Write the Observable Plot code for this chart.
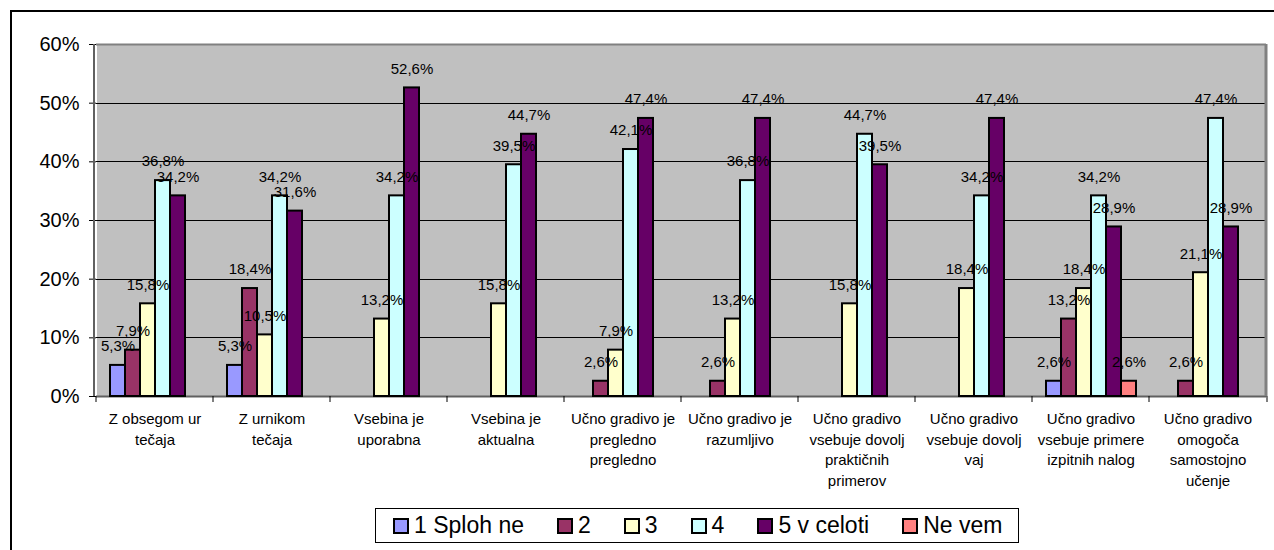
<!DOCTYPE html>
<html>
<head>
<meta charset="utf-8">
<script src="https://cdn.jsdelivr.net/npm/d3@7"></script>
<script src="https://cdn.jsdelivr.net/npm/@observablehq/plot@0.6"></script>
<style>
  html, body { margin: 0; padding: 0; background: #fff; overflow: hidden; }
  #wrap { position: relative; width: 1274px; height: 550px; overflow: hidden; }
  #border { position: absolute; left: 10px; top: 10px; width: 1290px; height: 580px; border: 2px solid #000; box-sizing: border-box; }
  #chart { position: absolute; left: 0; top: 0; }
  #legend { position: absolute; left: 375px; top: 508px; height: 35px; border: 1px solid #000; box-sizing: border-box;
            background: #fff; display: flex; align-items: center; padding-left: 17px; padding-right: 16px;
            font: 23px "Liberation Sans", Arial, sans-serif; color: #000; }
  .item { display: flex; align-items: center; margin-right: 33px; white-space: nowrap; }
  .item:last-child { margin-right: 0; }
  .sw { width: 12px; height: 12px; border: 2px solid #000; margin-right: 5px; }
</style>
</head>
<body>
<div id="wrap">
  <div id="border"></div>
  <div id="chart"></div>
  <div id="legend"></div>
</div>
<script>
// ---- data ----
const categories = [
  "Z obsegom ur tečaja",
  "Z urnikom tečaja",
  "Vsebina je uporabna",
  "Vsebina je aktualna",
  "Učno gradivo je pregledno pregledno",
  "Učno gradivo je razumljivo",
  "Učno gradivo vsebuje dovolj praktičnih primerov",
  "Učno gradivo vsebuje dovolj vaj",
  "Učno gradivo vsebuje primere izpitnih nalog",
  "Učno gradivo omogoča samostojno učenje"
];
const tickLabels = [
  "Z obsegom ur\ntečaja",
  "Z urnikom\ntečaja",
  "Vsebina je\nuporabna",
  "Vsebina je\naktualna",
  "Učno gradivo je\npregledno\npregledno",
  "Učno gradivo je\nrazumljivo",
  "Učno gradivo\nvsebuje dovolj\npraktičnih\nprimerov",
  "Učno gradivo\nvsebuje dovolj\nvaj",
  "Učno gradivo\nvsebuje primere\nizpitnih nalog",
  "Učno gradivo\nomogoča\nsamostojno\nučenje"
];
const seriesNames = ["1 Sploh ne", "2", "3", "4", "5 v celoti", "Ne vem"];
const s1SplohNe = [5.3, 5.3, 0, 0, 0, 0, 0, 0, 2.6, 0];
const s2 =        [7.9, 18.4, 0, 0, 2.6, 2.6, 0, 0, 13.2, 2.6];
const s3 =        [15.8, 10.5, 13.2, 15.8, 7.9, 13.2, 15.8, 18.4, 18.4, 21.1];
const s4 =        [36.8, 34.2, 34.2, 39.5, 42.1, 36.8, 44.7, 34.2, 34.2, 47.4];
const s5VCeloti = [34.2, 31.6, 52.6, 44.7, 47.4, 47.4, 39.5, 47.4, 28.9, 28.9];
const sNeVem =    [0, 0, 0, 0, 0, 0, 0, 0, 2.6, 0];
const yTicks = [0, 10, 20, 30, 40, 50, 60];

// ---- styles ----
const seriesColors = ["#9999FF", "#993366", "#FFFFCC", "#CCFFFF", "#660066", "#FF8080"];

const allSeries = [s1SplohNe, s2, s3, s4, s5VCeloti, sNeVem];
const rows = [];
categories.forEach((c, i) => {
  allSeries.forEach((vals, j) => {
    rows.push({category: c, series: seriesNames[j], value: vals[i]});
  });
});
const shown = rows.filter(d => d.value > 0);
const fmt = v => v.toFixed(1).replace(".", ",") + "%";

const chart = Plot.plot({
  width: 1274,
  height: 550,
  marginLeft: 94,
  marginRight: 7,
  marginTop: 44,
  marginBottom: 154,
  style: {fontFamily: "'Liberation Sans', Arial, sans-serif", background: "transparent", color: "#000"},
  fx: {domain: categories, padding: 0, axis: null},
  x: {domain: seriesNames, paddingInner: 0, paddingOuter: 0.75, axis: null},
  y: {domain: [0, 60], axis: null},
  color: {domain: seriesNames, range: seriesColors},
  marks: [
    Plot.frame({fill: "#C0C0C0", stroke: null, shapeRendering: "crispEdges"}),
    Plot.ruleY([10, 20, 30, 40, 50], {stroke: "#000", strokeWidth: 1, shapeRendering: "crispEdges"}),
    Plot.ruleY([60], {stroke: "#808080", strokeWidth: 2}),
    Plot.ruleY([0], {stroke: "#606060", strokeWidth: 2}),
    Plot.barY(shown, {fx: "category", x: "series", y: "value", fill: "series", stroke: "#000", strokeWidth: 2}),
    Plot.text(shown, {fx: "category", x: "series", y: "value", text: d => fmt(d.value),
      dy: -19, lineAnchor: "middle", fontSize: 15, fill: "#000"}),
    Plot.axisY({ticks: yTicks, tickFormat: d => d + "%", tickSize: 7, tickPadding: 10,
      fontSize: 20, label: null, stroke: "#000"}),
    Plot.axisFx({anchor: "bottom", tickSize: 0, tickPadding: 13, label: null,
      tickFormat: d => tickLabels[categories.indexOf(d)],
      fontSize: 15, lineHeight: 1.37})
  ]
});
document.getElementById("chart").appendChild(chart);

// plot-area side borders and category boundary ticks, from Plot's own scales
const fx = chart.scale("fx");
const ys = chart.scale("y");
const [xl, xr] = fx.range;
const yBottom = ys.apply(0), yTop = ys.apply(60);
const svg = d3.select(chart);
const g = svg.append("g");
g.append("line").attr("x1", xl).attr("x2", xl).attr("y1", yTop).attr("y2", yBottom)
  .attr("stroke", "#606060").attr("stroke-width", 2);
g.append("line").attr("x1", xr - 1).attr("x2", xr - 1).attr("y1", yTop).attr("y2", yBottom)
  .attr("stroke", "#808080").attr("stroke-width", 3);
const edges = categories.map(c => fx.apply(c)).concat([xr]);
g.selectAll(".xt").data(edges).join("line")
  .attr("x1", d => d).attr("x2", d => d).attr("y1", yBottom).attr("y2", yBottom + 6)
  .attr("stroke", "#000").attr("stroke-width", 1);

// legend
const legend = d3.select("#legend");
seriesNames.forEach((name, i) => {
  const it = legend.append("div").attr("class", "item");
  it.append("div").attr("class", "sw").style("background", seriesColors[i]);
  it.append("span").text(name);
});
</script>
</body>
</html>
